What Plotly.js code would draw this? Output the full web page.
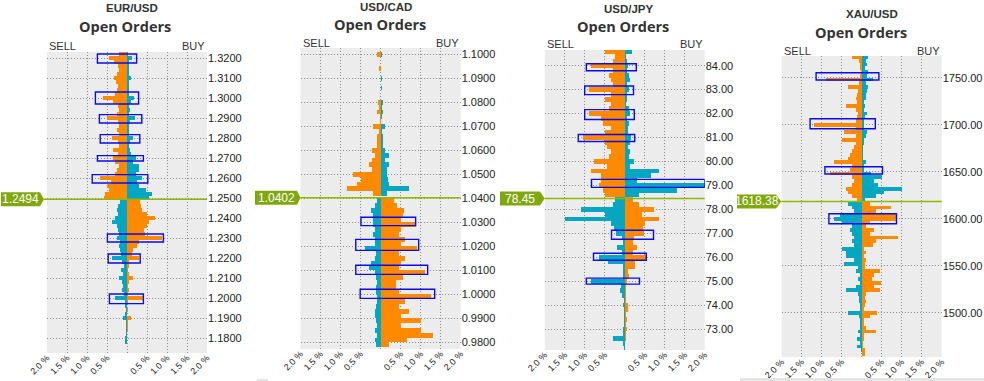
<!DOCTYPE html>
<html><head><meta charset="utf-8">
<script src="https://cdn.plot.ly/plotly-3.0.1.min.js"></script>
<style>html,body{margin:0;padding:0;background:#fff;}#chart{width:984px;height:381px;}</style>
</head><body><div id="chart"></div>
<script>
// ---------- EUR/USD ----------
const eurCurrent = 1.2494;
const eurAbovePrice = [1.322,1.320,1.318,1.316,1.314,1.312,1.310,1.308,1.306,1.304,1.302,1.300,1.298,1.296,1.294,1.292,1.290,1.288,1.286,1.284,1.282,1.280,1.278,1.276,1.274,1.272,1.270,1.268,1.266,1.264,1.262,1.260,1.258,1.256,1.254,1.252,1.250];
const eurAboveLeft  = [0.2,0.45,0.33,0.22,0.2,0.25,0.32,0.28,0.22,0.25,0.3,0.6,0.35,0.22,0.2,0.25,0.5,0.22,0.2,0.25,0.2,0.38,0.22,0.2,0.35,0.22,0.35,0.3,0.2,0.25,0.3,0.68,0.4,0.5,0.45,0.55,0.58];
const eurAboveRight = [0.03,0.12,0.04,0.05,0.04,0.06,0.09,0.05,0.04,0.05,0.06,0.18,0.1,0.06,0.08,0.06,0.2,0.08,0.05,0.06,0.05,0.15,0.07,0.06,0.08,0.1,0.22,0.15,0.3,0.3,0.22,0.37,0.25,0.3,0.48,0.62,0.55];
const eurBelowPrice = [1.248,1.246,1.244,1.242,1.240,1.238,1.236,1.234,1.232,1.230,1.228,1.226,1.224,1.222,1.220,1.218,1.216,1.214,1.212,1.210,1.208,1.206,1.204,1.202,1.200,1.198,1.196,1.194,1.192,1.190,1.188,1.186,1.184,1.182,1.180,1.178];
const eurBelowLeft  = [0.18,0.22,0.25,0.22,0.3,0.38,0.25,0.22,0.2,0.25,0.18,0.2,0.18,0.15,0.38,0.12,0.08,0.14,0.1,0.2,0.12,0.1,0.12,0.08,0.3,0.05,0.04,0.03,0.04,0.1,0.02,0.02,0.03,0.02,0.04,0.04];
const eurBelowRight = [0.33,0.35,0.38,0.5,0.7,0.55,0.5,0.42,0.45,0.87,0.3,0.25,0.15,0.12,0.3,0.05,0.04,0.03,0.04,0.16,0.04,0.03,0.05,0.03,0.4,0.02,0.01,0.02,0.01,0.1,0.03,0.03,0.02,0.01,0,0];
const eurBoxTop   = [1.3220,1.3030,1.2917,1.2817,1.2712,1.2617,1.2320,1.2220,1.2020];
const eurBoxBot   = [1.3175,1.2970,1.2875,1.2775,1.2685,1.2575,1.2280,1.2175,1.1972];
const eurBoxLeft  = [-0.74,-0.79,-0.69,-0.67,-0.74,-0.87,-0.49,-0.47,-0.44];
const eurBoxRight = [0.24,0.29,0.37,0.32,0.41,0.52,0.91,0.33,0.41];

// ---------- USD/CAD ----------
const cadCurrent = 1.0402;
const cadAbovePrice = [1.100,1.098,1.096,1.094,1.092,1.090,1.088,1.086,1.084,1.082,1.080,1.078,1.076,1.074,1.072,1.070,1.068,1.066,1.064,1.062,1.060,1.058,1.056,1.054,1.052,1.050,1.048,1.046,1.044,1.042];
const cadAboveLeft  = [0.08,0,0,0.04,0,0,0,0,0,0,0.07,0.03,0.1,0.02,0.02,0.18,0.03,0.08,0.08,0.1,0.22,0.15,0.22,0.28,0.22,0.68,0.5,0.6,0.85,0.2];
const cadAboveRight = [0.03,0.02,0,0,0.02,0.03,0.02,0.03,0,0.01,0.07,0.04,0.05,0.03,0.02,0.12,0.03,0.05,0.06,0.07,0.1,0.22,0.1,0.2,0.15,0.15,0.18,0.2,0.72,0.15];
const cadBelowPrice = [1.039,1.037,1.035,1.033,1.031,1.029,1.027,1.025,1.023,1.021,1.019,1.017,1.015,1.013,1.011,1.009,1.007,1.005,1.003,1.001,0.999,0.997,0.995,0.993,0.991,0.989,0.987,0.985,0.983,0.981,0.979];
const cadBelowLeft  = [0.1,0.15,0.25,0.2,0.18,0.18,0.15,0.18,0.15,0.15,0.4,0.12,0.15,0.25,0.28,0.15,0.12,0.1,0.12,0.12,0.1,0.1,0.12,0.15,0.15,0.12,0.1,0.15,0.1,0.15,0.12];
const cadBelowRight = [0.33,0.42,0.58,0.55,0.5,0.88,0.5,0.45,0.6,0.5,0.9,0.45,0.62,0.5,0.45,1.1,0.55,0.38,0.38,0.45,1.25,0.6,0.45,0.72,0.5,1.0,0.52,1.0,1.3,0.65,0.2];
const cadBoxTop   = [1.0321,1.0229,1.0121,1.0021];
const cadBoxBot   = [1.0286,1.0183,1.0083,0.9983];
const cadBoxLeft  = [-0.49,-0.62,-0.62,-0.51];
const cadBoxRight = [0.875,0.95,1.175,1.35];

// ---------- USD/JPY ----------
const jpyCurrent = 78.45;
const jpyAbovePrice = [84.6,84.4,84.2,84.0,83.8,83.6,83.4,83.2,83.0,82.8,82.6,82.4,82.2,82.0,81.8,81.6,81.4,81.2,81.0,80.8,80.6,80.4,80.2,80.0,79.8,79.6,79.4,79.2,79.0,78.8,78.6];
const jpyAboveLeft  = [0.5,0.25,0.3,0.85,0.3,0.4,0.35,0.3,0.9,0.35,0.5,0.35,0.4,0.9,0.6,0.55,0.35,0.5,1.05,0.5,0.45,0.35,0.4,0.77,0.45,0.85,0.6,0.6,0.65,0.55,0.5];
const jpyAboveRight = [0.18,0.03,0.05,0.08,0.05,0.1,0.12,0.05,0.1,0.05,0.05,0.04,0.1,0.12,0.05,0.1,0.08,0.08,0.15,0.12,0.08,0.12,0.1,0.23,0.12,0.85,0.65,0.3,2.0,1.3,0.35];
const jpyBelowPrice = [78.4,78.2,78.0,77.8,77.6,77.4,77.2,77.0,76.8,76.6,76.4,76.2,76.0,75.8,75.6,75.4,75.2,75.0,74.8,74.6,74.4,74.2,74.0,73.8,73.6,73.4,73.2,73.0,72.8,72.6,72.4,72.2];
const jpyBelowLeft  = [0.25,0.3,1.1,0.5,1.5,0.35,0.28,0.22,0.08,0.05,0.2,0.08,0.65,0.42,0.05,0.04,0.05,0.85,0.1,0.12,0.08,0.03,0.05,0.02,0.01,0.02,0.03,0.05,0.04,0.3,0.05,0.03];
const jpyBelowRight = [0.2,0.35,0.72,0.42,0.85,0.5,0.45,0.48,0.22,0.2,0.3,0.2,0.55,0.25,0.25,0.08,0.1,0.05,0.04,0.02,0.02,0.04,0.08,0.08,0.02,0.06,0.04,0.05,0.02,0.02,0,0];
const jpyBoxTop   = [84.083,83.153,82.167,81.125,79.25,77.125,76.167,75.125];
const jpyBoxBot   = [83.79,82.79,81.75,80.833,78.917,76.75,75.875,74.875];
const jpyBoxLeft  = [-0.96,-1.0,-1.0,-1.16,-0.83,-0.33,-0.78,-0.96];
const jpyBoxRight = [0.29,0.22,0.24,0.25,2.0,0.72,0.54,0.37];

// ---------- XAU/USD ----------
const xauCurrent = 1618.38;
const xauAbovePrice = [1772,1768,1764,1760,1756,1752,1748,1744,1740,1736,1732,1728,1724,1720,1716,1712,1708,1704,1700,1696,1692,1688,1684,1680,1676,1672,1668,1664,1660,1656,1652,1648,1644,1640,1636,1632,1628,1624,1620];
const xauAboveLeft  = [0.25,0.08,0.05,0.04,0.03,0.05,0.9,0.08,0.35,0.1,0.12,0.15,0.12,0.4,0.15,0.1,0.12,0.15,1.2,0.15,0.45,0.15,0.5,0.15,0.2,0.25,0.3,0.35,0.7,0.25,0.3,0.8,0.25,0.2,0.25,0.4,0.35,0.25,0.12];
const xauAboveRight = [0.15,0.1,0.12,0.08,0.15,0.12,0.28,0.1,0.15,0.12,0.1,0.1,0.05,0.08,0.05,0.12,0.08,0.05,0.05,0.05,0.12,0.1,0.05,0.05,0.03,0.03,0.04,0.03,0.1,0.05,0.05,0.22,0.5,0.3,0.4,1.0,0.55,0.35,0.08];
const xauBelowPrice = [1616,1612,1608,1604,1600,1596,1592,1588,1584,1580,1576,1572,1568,1564,1560,1556,1552,1548,1544,1540,1536,1532,1528,1524,1520,1516,1512,1508,1504,1500,1496,1492,1488,1484,1480,1476,1472,1468,1464,1460,1456];
const xauBelowLeft  = [0.35,0.25,0.2,0.55,0.7,0.5,0.25,0.3,0.25,0.2,0.25,0.2,0.5,0.4,0.4,0.2,0.45,0.1,0.15,0.05,0.1,0.05,0.15,0.4,0.1,0.08,0.08,0.05,0.05,0.35,0.08,0.05,0.05,0.05,0.1,0.05,0.12,0.05,0.12,0.03,0];
const xauBelowRight = [0.2,0.72,0.35,0.85,0.85,0.2,0.1,0.3,0.2,0.9,0.35,0.28,0.05,0.1,0.05,0.1,0.08,0.08,0.45,0.3,0.25,0.48,0.3,0.45,0.1,0.08,0.1,0.08,0.05,0.38,0.2,0.05,0.05,0.1,0.35,0.05,0.05,0.02,0.02,0.07,0.07];
const xauBoxTop   = [1755.3,1706.4,1655.3,1605.3];
const xauBoxBot   = [1747.5,1695.7,1647.5,1594.7];
const xauBoxLeft  = [-1.14,-1.29,-0.92,-0.82];
const xauBoxRight = [0.43,0.34,0.52,0.87];

// ---------- shared axis labels ----------
const xTickVals = [-2,-1.5,-1,-0.5,0,0.5,1,1.5,2];
const xTickText = ['2.0 %','1.5 %','1.0 %','0.5 %','','0.5 %','1.0 %','1.5 %','2.0 %'];
const pairNames = ['EUR/USD','USD/CAD','USD/JPY','XAU/USD'];
const currentTexts = ['1.2494','1.0402','78.45','1618.38'];

// ---------- layout geometry (pixels) ----------
const W = 984, H = 381;
const ORANGE = '#ff8a00', TEAL = '#04a6c1', GREEN = '#80a80e', LINEGREEN = '#8fb700';
const GRID = '#8a8a8a', GRIDDASH = '1px,2px';
const panels = [
  {cur:eurCurrent, ap:eurAbovePrice, al:eurAboveLeft, ar:eurAboveRight, bp:eurBelowPrice, bl:eurBelowLeft, br:eurBelowRight, w:0.002,
   bt:eurBoxTop, bb:eurBoxBot, bxl:eurBoxLeft, bxr:eurBoxRight,
   xL:47, xR:207, yT:52, yB:353, yr:[1.1725,1.323], tick0:1.18, dtick:0.01, fmt:'.4f',
   t1:[132,8], t2:[125,27], sellY:46, lab:[1,40,44]},
  {cur:cadCurrent, ap:cadAbovePrice, al:cadAboveLeft, ar:cadAboveRight, bp:cadBelowPrice, bl:cadBelowLeft, br:cadBelowRight, w:0.002,
   bt:cadBoxTop, bb:cadBoxBot, bxl:cadBoxLeft, bxr:cadBoxRight,
   xL:300.5, xR:460.7, yT:48, yB:349, yr:[0.97721,1.10263], tick0:0.98, dtick:0.01, fmt:'.4f',
   t1:[386,7], t2:[380,25], sellY:43, lab:[255,297,300.5]},
  {cur:jpyCurrent, ap:jpyAbovePrice, al:jpyAboveLeft, ar:jpyAboveRight, bp:jpyBelowPrice, bl:jpyBelowLeft, br:jpyBelowRight, w:0.2,
   bt:jpyBoxTop, bb:jpyBoxBot, bxl:jpyBoxLeft, bxr:jpyBoxRight,
   xL:544.7, xR:704.7, yT:50, yB:350, yr:[72.124,84.656], tick0:73, dtick:1, fmt:'.2f',
   t1:[629,9], t2:[623,26], sellY:44, lab:[500,540,544.7]},
  {cur:xauCurrent, ap:xauAbovePrice, al:xauAboveLeft, ar:xauAboveRight, bp:xauBelowPrice, bl:xauBelowLeft, br:xauBelowRight, w:4,
   bt:xauBoxTop, bb:xauBoxBot, bxl:xauBoxLeft, bxr:xauBoxRight,
   xL:781.7, xR:941.7, yT:56, yB:357, yr:[1452.9,1773.1], tick0:1500, dtick:50, fmt:'.2f',
   t1:[872,14], t2:[861,33], sellY:51, lab:[737,776,781.2]}
];

const px = p => p / W;
const py = p => 1 - p / H;
const neg = arr => arr.map(v => -v);

const data = [], shapes = [], annotations = [];
const layout = {
  width: W, height: H, margin:{l:0,r:0,t:0,b:0,pad:0}, autosize:false,
  paper_bgcolor:'#ffffff', plot_bgcolor:'#ececec', showlegend:false,
  barmode:'overlay', bargap:0,
  font:{family:'"Liberation Sans", Arial, sans-serif', color:'#222', size:11}
};

panels.forEach((p, i) => {
  const n = i === 0 ? '' : String(i + 1);
  const xa = 'x' + n, ya = 'y' + n;
  const mk = (y, x, color) => ({type:'bar', orientation:'h', y:y, x:x, width:p.w, base:0,
    marker:{color:color, line:{width:0}}, xaxis:xa, yaxis:ya, hoverinfo:'skip'});
  data.push(mk(p.ap, neg(p.al), ORANGE));
  data.push(mk(p.ap, p.ar, TEAL));
  data.push(mk(p.bp, neg(p.bl), TEAL));
  data.push(mk(p.bp, p.br, ORANGE));

  layout['xaxis' + n] = {
    domain:[px(p.xL), px(p.xR)], range:[-2,2], anchor:ya, fixedrange:true,
    tickmode:'array', tickvals:xTickVals, ticktext:xTickText, tickangle:-45,
    showgrid:true, gridcolor:GRID, griddash:GRIDDASH, gridwidth:1,
    zeroline:false, showline:false, ticks:'', ticklabelstandoff:-3,
    tickfont:{size:9, color:'#222'}
  };
  layout['yaxis' + n] = {
    domain:[py(p.yB), py(p.yT)], range:p.yr, anchor:xa, side:'right', fixedrange:true,
    tick0:p.tick0, dtick:p.dtick, tickformat:p.fmt,
    showgrid:true, gridcolor:GRID, griddash:GRIDDASH, gridwidth:1,
    zeroline:false, showline:false, ticks:'', tickfont:{size:11, color:'#222'}
  };

  // blue outline boxes
  p.bt.forEach((t, k) => {
    shapes.push({type:'rect', xref:xa, yref:ya, x0:p.bxl[k], x1:p.bxr[k], y0:p.bb[k], y1:t,
      line:{color:'#0a0af0', width:1.4}, fillcolor:'rgba(0,0,0,0)', layer:'above'});
  });

  // current price line
  shapes.push({type:'line', xref:'paper', yref:ya, x0:px(p.lab[2]), x1:px(p.xR), y0:p.cur, y1:p.cur,
    line:{color:LINEGREEN, width:1.5}, layer:'above'});
  // current price tag
  const a = px(p.lab[0]), b = px(p.lab[1]), c = px(p.lab[2]);
  shapes.push({type:'path', xref:'paper', yref:ya, ysizemode:'pixel', yanchor:p.cur,
    path:`M ${a},-7 L ${b},-7 L ${c},0 L ${b},7 L ${a},7 Z`,
    fillcolor:GREEN, line:{width:0}, layer:'above'});
  annotations.push({xref:'paper', yref:ya, x:(a + b) / 2, y:p.cur, text:currentTexts[i], showarrow:false,
    xanchor:'center', yanchor:'middle', font:{size:12, color:'#ffffff'}});

  // titles
  annotations.push({xref:'paper', yref:'paper', x:px(p.t1[0]), y:py(p.t1[1]), text:'<b>' + pairNames[i] + '</b>', showarrow:false,
    xanchor:'center', yanchor:'middle', font:{size:11.5, color:'#333'}});
  annotations.push({xref:'paper', yref:'paper', x:px(p.t2[0]), y:py(p.t2[1]), text:'<b>Open Orders</b>', showarrow:false,
    xanchor:'center', yanchor:'middle', font:{family:'"Open Sans", sans-serif', size:14.5, color:'#333'}});
  annotations.push({xref:'paper', yref:'paper', x:px(p.xL), y:py(p.sellY), text:'SELL', showarrow:false,
    xanchor:'left', yanchor:'middle', font:{size:11, color:'#333'}});
  annotations.push({xref:'paper', yref:'paper', x:px(p.xR), y:py(p.sellY), text:'BUY', showarrow:false,
    xanchor:'right', yanchor:'middle', font:{size:11, color:'#333'}});
});

// faint scrollbar remnants at the bottom
shapes.push({type:'rect', xref:'paper', yref:'paper', x0:px(740), x1:1, y0:0, y1:3/H, fillcolor:'#e4e4e4', line:{width:0}});
shapes.push({type:'rect', xref:'paper', yref:'paper', x0:px(257), x1:px(268), y0:0, y1:2/H, fillcolor:'#e4e4e4', line:{width:0}});

layout.shapes = shapes;
layout.annotations = annotations;
Plotly.newPlot('chart', data, layout, {staticPlot:true, displayModeBar:false});
</script>
</body></html>
